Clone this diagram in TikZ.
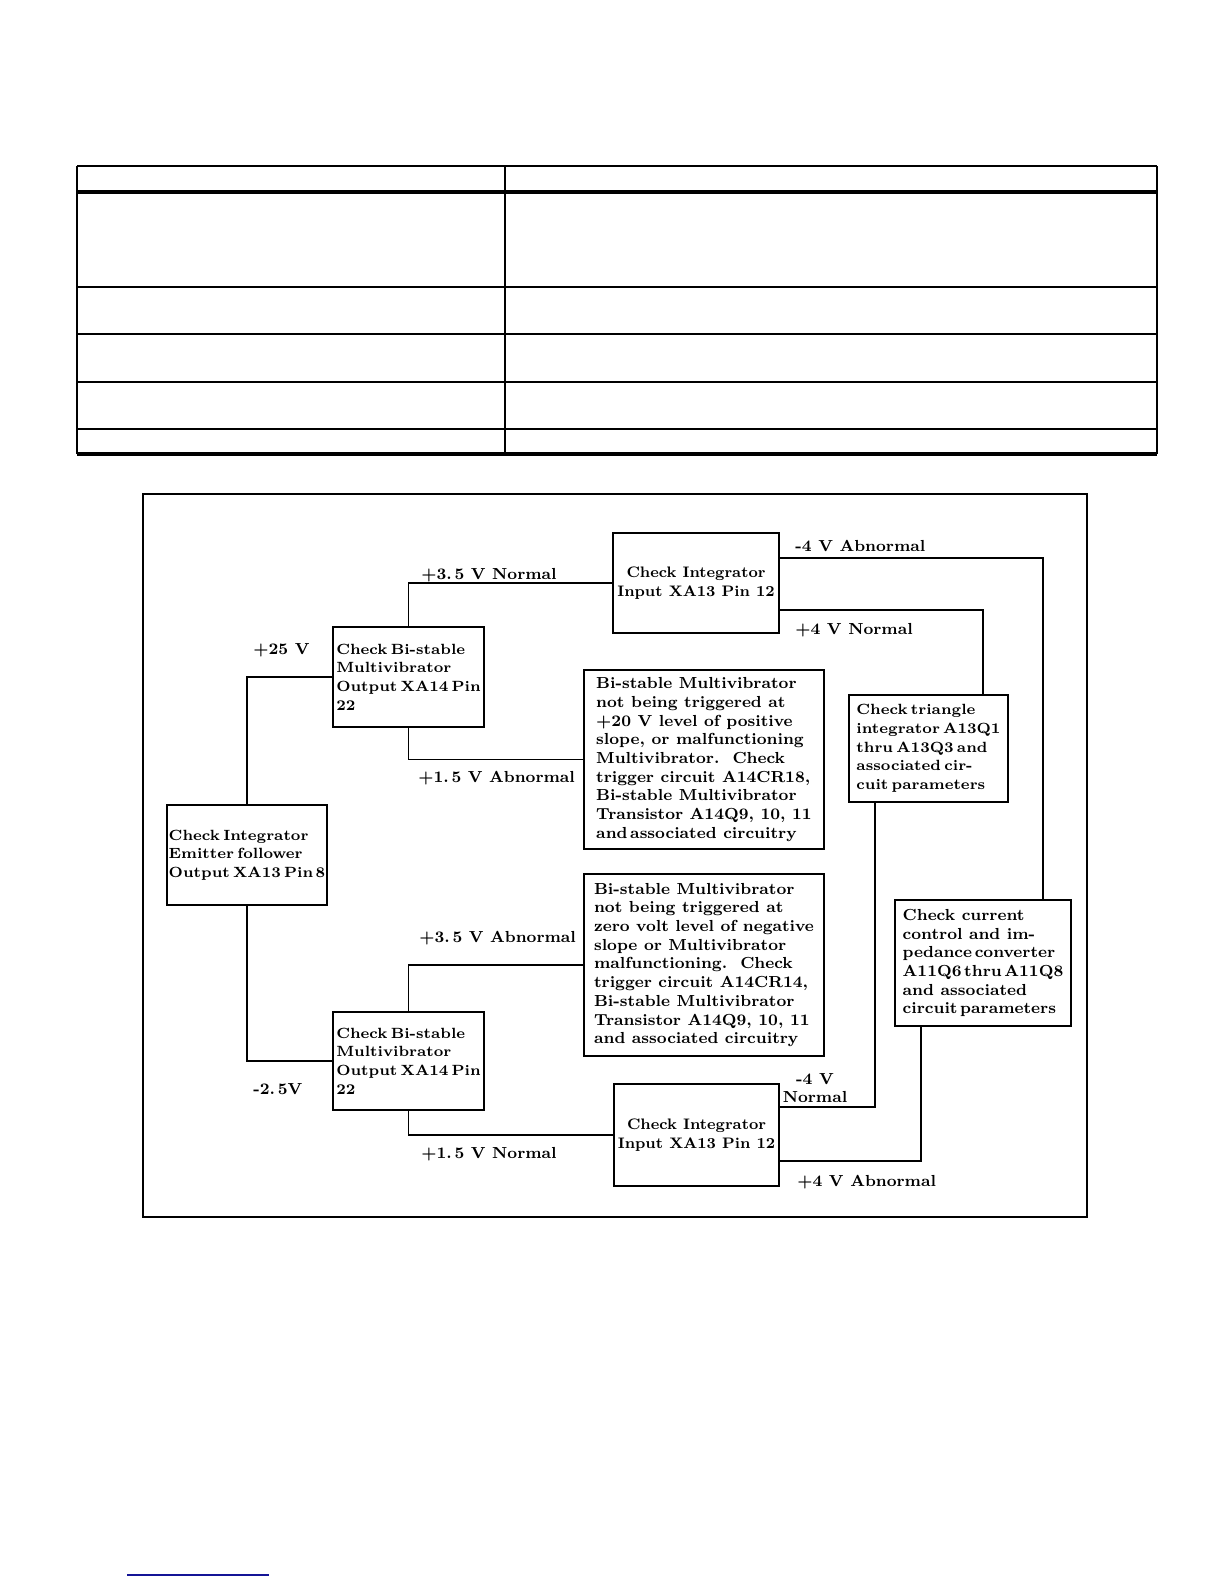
\documentclass[tikz,border=0pt]{standalone}
\usepackage{tikz}
\definecolor{footblue}{RGB}{20,20,150}
\newcommand{\dfont}{\fontsize{8}{9.35}\selectfont\bfseries}
\newcommand{\nfont}{\fontsize{7.4}{9.35}\selectfont\bfseries\fontdimen2\font=0.22em}
\newcommand{\ifont}{\fontsize{7.6}{9.35}\selectfont\bfseries}
\begin{document}
\begin{tikzpicture}[x=0.5pt,y=-0.5pt,
  box/.style={draw, line width=1pt, align=left, font=\dfont, inner sep=0pt},
  narrow/.style={font=\nfont},
  intbox/.style={font=\ifont, align=center},
  lbl/.style={anchor=west, font=\dfont, inner sep=0pt},
  wire/.style={line width=0.9pt},
  thinrule/.style={line width=0.6pt},
  thickrule/.style={line width=1.2pt},
  headrule/.style={line width=1.6pt}]
\useasboundingbox (0,0) rectangle (1224,1584);
% ---- table (empty) ----
\draw[line width=0.9pt] (77,166) -- (77,454);
\draw[line width=1.1pt] (505,166) -- (505,454);
\draw[line width=0.9pt] (1157,166) -- (1157,454);
\draw[line width=0.8pt] (77,166) -- (1157,166);
\draw[headrule] (77,192) -- (1157,192);
\draw[thickrule] (77,287) -- (1157,287);
\draw[thinrule] (77,334) -- (1157,334);
\draw[thickrule] (77,382) -- (1157,382);
\draw[thinrule] (77,429) -- (1157,429);
\draw[headrule] (77,454) -- (1157,454);
% ---- frame ----
\draw[line width=1pt] (143,494) rectangle (1087,1217);
% ---- boxes ----
\node[box, intbox, minimum width=83pt, minimum height=50pt] (intU) at (696,583)
  {Check Integrator\\Input XA13 Pin 12};
\node[box, narrow, minimum width=75.5pt, minimum height=50pt] (bsU) at (408.5,677)
  {Check Bi-stable\\Multivibrator\\Output XA14 Pin\\ 22};
\node[box, narrow, minimum width=80pt, minimum height=50pt] (emit) at (247,855)
  {Check Integrator\\Emitter follower\\Output XA13 Pin\,8};
\node[box, narrow, minimum width=75.5pt, minimum height=49pt] (bsL) at (408.5,1061)
  {Check Bi-stable\\Multivibrator\\Output XA14 Pin\\22};
\node[box, minimum width=120pt, minimum height=89.5pt] (descU) at (704,759.5)
  {Bi-stable Multivibrator\\not being triggered at\\+20 V level of positive\\slope, or malfunctioning\\Multivibrator.\ \ Check\\trigger circuit A14CR18,\\Bi-stable Multivibrator\\Transistor A14Q9, 10, 11\\and\,associated circuitry};
\node[box, minimum width=120pt, minimum height=91pt] (descL) at (704,965)
  {Bi-stable Multivibrator\\not being triggered at\\zero volt level of negative\\slope or Multivibrator\\malfunctioning.\ \ Check\\trigger circuit A14CR14,\\Bi-stable Multivibrator\\Transistor A14Q9, 10, 11\\and associated circuitry};
\node[box, intbox, minimum width=82.5pt, minimum height=51pt] (intL) at (696.5,1135)
  {Check Integrator\\Input XA13 Pin 12};
\node[box, narrow, minimum width=79.5pt, minimum height=53.5pt] (tri) at (928.5,748.5)
  {Check triangle\\integrator A13Q1\\thru A13Q3 and\\associated cir-\\cuit parameters};
\node[box, minimum width=88pt, minimum height=63pt] (cur) at (983,963)
  {Check current\\control and im-\\pedance\,converter\\A11Q6\,thru\,A11Q8\\and associated\\circuit\,parameters};
% ---- connectors ----
\draw[wire] (bsU.north) |- (intU.west);
\draw[wire] (bsU.south) |- (descU.west);
\draw[wire] (emit.north) |- (bsU.west);
\draw[wire] (emit.south) |- (bsL.west);
\draw[wire] (bsL.north) |- (descL.west);
\draw[wire] (bsL.south) |- (intL.west);
\draw[wire] ([yshift=-13pt]intU.north east) -| ([xshift=30pt]cur.north);
\draw[wire] ([yshift=12pt]intU.south east) -| ([xshift=27.25pt]tri.north);
\draw[wire] ([xshift=-26.75pt]tri.south) |- ([yshift=-12pt]intL.north east);
\draw[wire] ([xshift=-31pt]cur.south) |- ([yshift=13pt]intL.south east);
% ---- labels ----
\node[lbl] (l1) at (421,575) {+3.\,5 V Normal};
\node[lbl] (l2) at (253,650) {+25 V};
\node[lbl] (l3) at (418,778) {+1.\,5 V Abnormal};
\node[lbl] (l4) at (795,546) {-4 V Abnormal};
\node[lbl] (l5) at (795,630) {+4 V Normal};
\node[lbl] (l6) at (419,938) {+3.\,5 V Abnormal};
\node[lbl] (l7) at (253,1089) {-2.\,5V};
\node[lbl] (l8) at (421,1154) {+1.\,5 V Normal};
\node[font=\dfont, inner sep=0pt, align=center] (l9) at (815,1088) {-4 V\\Normal};
\node[lbl] (l10) at (797,1182) {+4 V Abnormal};
% ---- footnote rule ----
\draw[footblue, line width=0.7pt] (127,1575) -- (269,1575);
\end{tikzpicture}
\end{document}
